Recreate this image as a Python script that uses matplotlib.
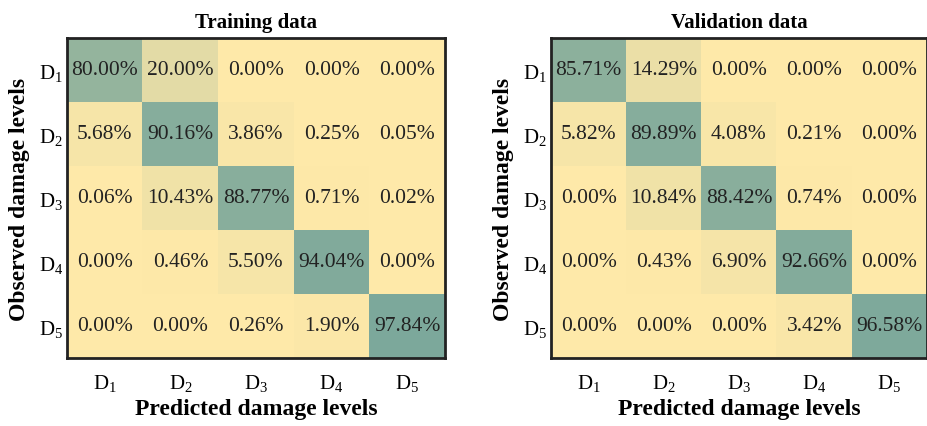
import numpy as np
import matplotlib
matplotlib.use("Agg")
import matplotlib.pyplot as plt
from matplotlib.colors import LinearSegmentedColormap

plt.rcParams['font.family'] = ['Liberation Serif', 'DejaVu Serif']
plt.rcParams['mathtext.fontset'] = 'custom'
plt.rcParams['mathtext.rm'] = 'Liberation Serif'
plt.rcParams['mathtext.it'] = 'Liberation Serif:italic'

levels = [r'$\mathrm{D}_1$', r'$\mathrm{D}_2$', r'$\mathrm{D}_3$',
          r'$\mathrm{D}_4$', r'$\mathrm{D}_5$']

train = np.array([
    [80.00, 20.00, 0.00, 0.00, 0.00],
    [5.68, 90.16, 3.86, 0.25, 0.05],
    [0.06, 10.43, 88.77, 0.71, 0.02],
    [0.00, 0.46, 5.50, 94.04, 0.00],
    [0.00, 0.00, 0.26, 1.90, 97.84],
])
valid = np.array([
    [85.71, 14.29, 0.00, 0.00, 0.00],
    [5.82, 89.89, 4.08, 0.21, 0.00],
    [0.00, 10.84, 88.42, 0.74, 0.00],
    [0.00, 0.43, 6.90, 92.66, 0.00],
    [0.00, 0.00, 0.00, 3.42, 96.58],
])

cmap = LinearSegmentedColormap.from_list('yg', ['#fee9a9', '#7aa79b'])

fig = plt.figure(figsize=(9.28, 4.27), dpi=100)
W, H = 928, 427
boxes = [(67, 39, 378, 320), (551, 39, 376, 320)]
titles = ['Training data', 'Validation data']

for (x0, y0, w, h), data, title in zip(boxes, [train, valid], titles):
    ax = fig.add_axes([x0 / W, 1 - (y0 + h) / H, w / W, h / H])
    ax.imshow(data, cmap=cmap, vmin=0, vmax=100, aspect='auto')
    for i in range(5):
        for j in range(5):
            ax.text(j, i, f'{data[i, j]:.2f}%', ha='center', va='center',
                    fontsize=15.5, color='#222222')
    ax.set_xticks(range(5))
    ax.set_yticks(range(5))
    ax.set_xticklabels(levels, fontsize=15)
    ax.set_yticklabels(levels, fontsize=15)
    ax.tick_params(length=0, pad=10, axis='x')
    ax.tick_params(length=0, pad=3, axis='y')
    for s in ax.spines.values():
        s.set_linewidth(2)
        s.set_color('#222222')
    ax.set_title(title, fontsize=15, fontweight='bold', pad=8)
    ax.set_xlabel('Predicted damage levels', fontsize=17, fontweight='bold',
                  labelpad=4)
    ax.set_ylabel('Observed damage levels', fontsize=17, fontweight='bold',
                  labelpad=6)

fig.savefig('out.png', dpi=100)
